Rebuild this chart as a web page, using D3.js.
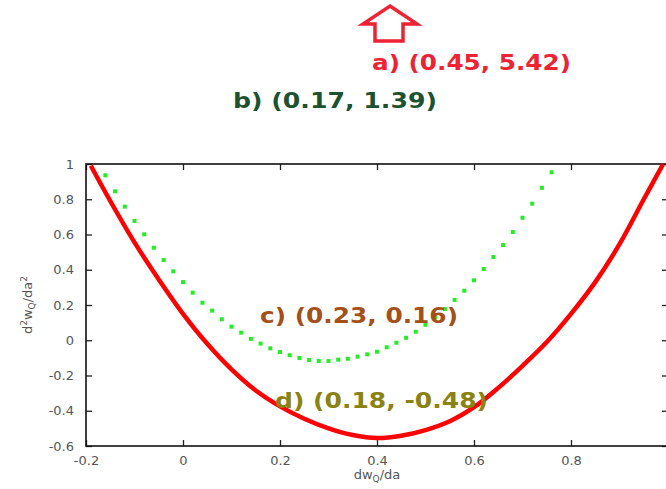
<!DOCTYPE html>
<html>
<head>
<meta charset="utf-8">
<script src="https://cdn.jsdelivr.net/npm/d3@7"></script>
<style>
  html, body { margin: 0; padding: 0; background: #fff; }
  svg { display: block; }
  .tick text { font-family: "DejaVu Sans", Verdana, sans-serif; font-size: 13px; fill: #555; }
</style>
</head>
<body>
<svg id="chart" width="666" height="489"></svg>
<script>
// red curve
const redX = [-0.19, -0.15, -0.10, -0.05, 0.00, 0.05, 0.10, 0.15, 0.20, 0.25, 0.30, 0.35, 0.40,
              0.45, 0.50, 0.55, 0.60, 0.65, 0.70, 0.75, 0.80, 0.85, 0.90, 0.95, 0.99];
const redY = [0.99, 0.79, 0.555, 0.345, 0.15, -0.02, -0.165, -0.285, -0.375, -0.445, -0.50, -0.538, -0.555,
              -0.542, -0.51, -0.46, -0.38, -0.27, -0.145, -0.01, 0.15, 0.33, 0.545, 0.80, 1.00];

// green dotted series
const greenX = [-0.16, -0.14, -0.12, -0.10, -0.08, -0.06, -0.04, -0.02, 0.00, 0.02, 0.04, 0.06,
                0.08, 0.10, 0.12, 0.14, 0.16, 0.18, 0.20, 0.22, 0.24, 0.26, 0.28, 0.30,
                0.32, 0.34, 0.36, 0.38, 0.40, 0.42, 0.44, 0.46, 0.48, 0.50, 0.52, 0.54,
                0.56, 0.58, 0.60, 0.62, 0.64, 0.66, 0.68, 0.70, 0.72, 0.74, 0.76];
const greenY = [0.936, 0.845, 0.758, 0.677, 0.601, 0.525, 0.455, 0.391, 0.330, 0.270, 0.213, 0.168,
                0.119, 0.077, 0.043, 0.008, -0.019, -0.046, -0.067, -0.085, -0.101, -0.112, -0.118, -0.118,
                -0.110, -0.105, -0.093, -0.080, -0.065, -0.040, -0.014, 0.014, 0.048, 0.088, 0.130, 0.177,
                0.229, 0.281, 0.340, 0.404, 0.472, 0.540, 0.614, 0.695, 0.775, 0.865, 0.953];

const xTicks = [-0.2, 0, 0.2, 0.4, 0.6, 0.8];
const yTicks = [-0.6, -0.4, -0.2, 0, 0.2, 0.4, 0.6, 0.8, 1];

const labels = [
  { text: "a) (0.45, 5.42)", color: "#ee2233" },
  { text: "b) (0.17, 1.39)", color: "#1d5230" },
  { text: "c) (0.23, 0.16)", color: "#a3501a" },
  { text: "d) (0.18, -0.48)", color: "#8a8212" }
];

const svg = d3.select("#chart");
const pL = 86, pR = 668, pT = 164, pB = 446;

const x = d3.scaleLinear().domain([-0.2, 1.0]).range([pL, pR]);
const y = d3.scaleLinear().domain([-0.6, 1.0]).range([pB, pT]);
const fmt = (d) => String(d);

svg.append("defs").append("clipPath").attr("id", "clip")
  .append("rect").attr("x", pL).attr("y", pT - 3).attr("width", pR - pL).attr("height", pB - pT + 3);

// axes, ticks inward, mirrored
svg.append("g").attr("transform", `translate(0,${pB})`)
  .call(d3.axisBottom(x).tickValues(xTicks).tickSize(-6).tickPadding(10).tickFormat(fmt))
  .call(g => g.select(".domain").remove());
svg.append("g").attr("transform", `translate(0,${pT})`)
  .call(d3.axisTop(x).tickValues(xTicks).tickSize(-6).tickFormat(""))
  .call(g => g.select(".domain").remove());
svg.append("g").attr("transform", `translate(${pL},0)`)
  .call(d3.axisLeft(y).tickValues(yTicks).tickSize(-6).tickPadding(12).tickFormat(fmt))
  .call(g => g.select(".domain").remove());
svg.append("g").attr("transform", `translate(${pR},0)`)
  .call(d3.axisRight(y).tickValues(yTicks).tickSize(-6).tickFormat(""))
  .call(g => g.select(".domain").remove());
svg.selectAll(".tick line").attr("stroke", "#222").attr("stroke-width", 1.3);

svg.append("rect").attr("x", pL).attr("y", pT).attr("width", pR - pL).attr("height", pB - pT)
  .attr("fill", "none").attr("stroke", "#111").attr("stroke-width", 1.6);

// axis titles
const yt = svg.append("text").attr("transform", "translate(32,305) rotate(-90)")
  .attr("text-anchor", "middle").attr("font-family", "DejaVu Sans, sans-serif")
  .attr("font-size", 13).attr("fill", "#555");
yt.append("tspan").text("d");
yt.append("tspan").attr("dy", -5).attr("font-size", 9).text("2");
yt.append("tspan").attr("dy", 5).text("w");
yt.append("tspan").attr("dy", 3).attr("font-size", 9).text("Q");
yt.append("tspan").attr("dy", -3).text("/da");
yt.append("tspan").attr("dy", -5).attr("font-size", 9).text("2");

const xt = svg.append("text").attr("x", 377).attr("y", 479)
  .attr("text-anchor", "middle").attr("font-family", "DejaVu Sans, sans-serif")
  .attr("font-size", 13).attr("fill", "#555");
xt.append("tspan").text("dw");
xt.append("tspan").attr("dy", 3).attr("font-size", 9).text("Q");
xt.append("tspan").attr("dy", -3).text("/da");

const plot = svg.append("g").attr("clip-path", "url(#clip)");

// green dots
plot.selectAll("rect.g").data(greenX).join("rect")
  .attr("class", "g")
  .attr("x", (d) => x(d) - 2)
  .attr("y", (d, i) => y(greenY[i]) - 2)
  .attr("width", 4).attr("height", 4)
  .attr("fill", "#22ee22");

// red curve
const line = d3.line().x((d) => x(d)).y((d, i) => y(redY[i])).curve(d3.curveCatmullRom);
plot.append("path").datum(redX).attr("d", line)
  .attr("fill", "none").attr("stroke", "#ff0000").attr("stroke-width", 4.5);

// labels
const pos = [[372, 70, 199], [233, 108, 204], [260, 323, 198], [275, 408, 213]];
labels.forEach((l, i) => {
  svg.append("text").attr("x", pos[i][0]).attr("y", pos[i][1])
    .attr("font-family", "DejaVu Sans, Verdana, sans-serif").attr("font-weight", "bold")
    .attr("font-size", 21).attr("fill", l.color)
    .attr("textLength", pos[i][2]).attr("lengthAdjust", "spacingAndGlyphs")
    .text(l.text);
});

// hollow arrow pointing up (value a is off the chart)
svg.append("path")
  .attr("d", "M390,6 L417,24 L403,24 L403,41 L375,41 L375,24 L363,24 Z")
  .attr("fill", "#fff").attr("stroke", "#ee2233").attr("stroke-width", 3.5)
  .attr("stroke-linejoin", "miter");
</script>
</body>
</html>
